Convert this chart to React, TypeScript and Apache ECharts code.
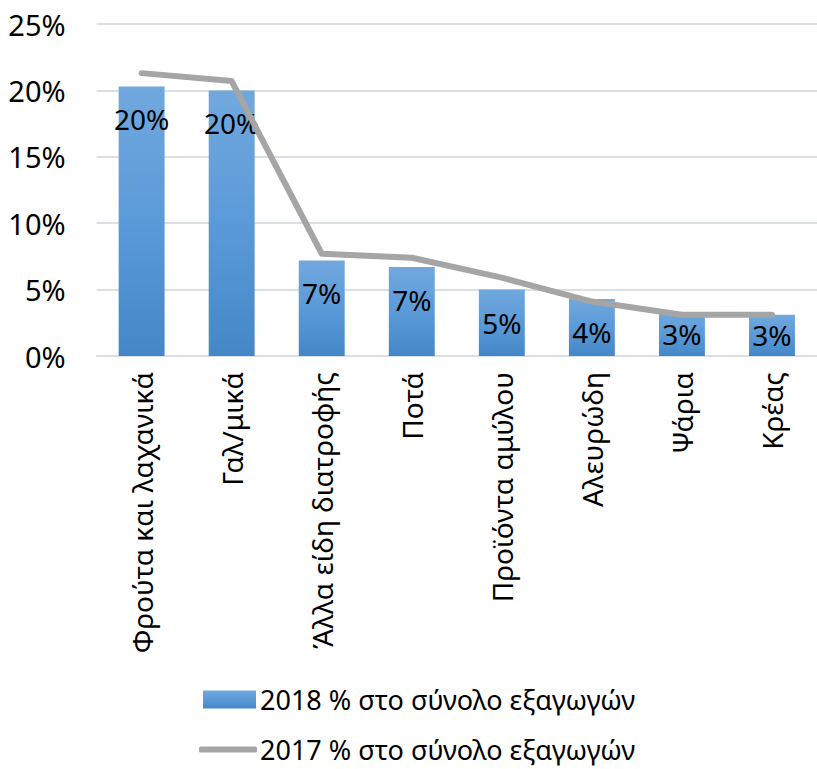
import React, { useEffect, useRef } from "react";
import * as echarts from "echarts";

const categories = [
  "Φρούτα και λαχανικά",
  "Γαλ/μικά",
  "Άλλα είδη διατροφής",
  "Ποτά",
  "Προϊόντα αμύλου",
  "Αλευρώδη",
  "Ψάρια",
  "Κρέας",
];
const values2018 = [20.3, 20.0, 7.2, 6.7, 5.0, 4.3, 3.3, 3.1];
const values2017 = [21.3, 20.7, 7.7, 7.4, 5.9, 4.1, 3.1, 3.1];
const name2018 = "2018 % στο σύνολο εξαγωγών";
const name2017 = "2017 % στο σύνολο εξαγωγών";
const yTicks = [0, 5, 10, 15, 20, 25];

const FONT = "'Noto Sans', 'Open Sans', sans-serif";

export default function App() {
  const ref = useRef<HTMLDivElement>(null);
  useEffect(() => {
    if (!ref.current) return;
    const chart = echarts.init(ref.current, null, { renderer: "svg" });
    const barData = values2018.map((v) => ({
      value: v,
      label:
        v < 4
          ? { position: "inside" as const }
          : { position: "insideTop" as const, distance: 19 },
    }));
    const legendText = { fontSize: 27, lineHeight: 27, color: "#000", fontFamily: FONT };
    chart.setOption({
      animation: false,
      backgroundColor: "#ffffff",
      textStyle: { fontFamily: FONT },
      grid: { left: 96.6, right: -5, top: 24, bottom: 413, containLabel: false },
      legend: [
        {
          left: 203,
          top: 686,
          itemWidth: 53,
          itemHeight: 18,
          itemGap: 0,
          padding: 0,
          textStyle: { ...legendText, padding: [0, 0, 0, -1] },
          data: [{ name: name2018, icon: "rect" }],
        },
        {
          left: 199,
          top: 736,
          itemWidth: 58,
          itemHeight: 6,
          itemGap: 0,
          padding: 0,
          textStyle: { ...legendText, padding: [0, 0, 0, -2] },
          itemStyle: { color: "#a5a5a5" },
          data: [{ name: name2017, icon: "roundRect" }],
        },
      ],
      xAxis: {
        type: "category",
        data: categories,
        axisLine: { show: true, lineStyle: { color: "#dadee5", width: 2 } },
        axisTick: { show: false },
        axisLabel: {
          rotate: 90,
          margin: 16,
          fontSize: 28,
          color: "#000",
          fontFamily: FONT,
          interval: 0,
        },
      },
      yAxis: {
        type: "value",
        min: yTicks[0],
        max: yTicks[yTicks.length - 1],
        interval: 5,
        axisLine: { show: false },
        axisTick: { show: false },
        splitLine: { lineStyle: { color: "#dadee5", width: 2 } },
        axisLabel: {
          formatter: (v: number) => `${v}%`,
          fontSize: 29,
          color: "#000",
          margin: 31,
          fontFamily: FONT,
        },
      },
      series: [
        {
          name: name2018,
          type: "bar",
          data: barData,
          barWidth: "51%",
          itemStyle: {
            color: new echarts.graphic.LinearGradient(0, 0, 0, 1, [
              { offset: 0, color: "#71a8de" },
              { offset: 0.5, color: "#5b9ad8" },
              { offset: 1, color: "#4487c7" },
            ]),
          },
          label: {
            show: true,
            fontSize: 28,
            color: "#000",
            fontFamily: FONT,
            formatter: (p: any) => `${Math.round(p.value)}%`,
          },
          z: 2,
        },
        {
          name: name2017,
          type: "line",
          data: values2017,
          symbol: "none",
          lineStyle: { color: "#a5a5a5", width: 6, cap: "round", join: "round" },
          itemStyle: { color: "#a5a5a5" },
          z: 3,
        },
      ],
    });
    return () => chart.dispose();
  }, []);
  return (
    <div
      ref={ref}
      style={{ position: "fixed", left: 0, top: 0, width: 817, height: 769 }}
    />
  );
}
